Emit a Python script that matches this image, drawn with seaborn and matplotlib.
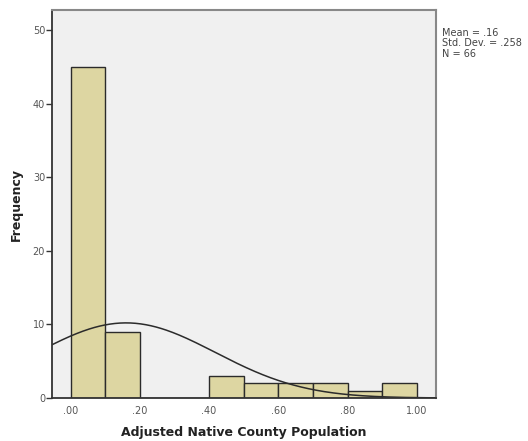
import numpy as np
import pandas as pd
import matplotlib
matplotlib.use("Agg")
import matplotlib.pyplot as plt
import seaborn as sns

# histogram bins (width .10) and counts
bin_left = [0.0, 0.1, 0.2, 0.3, 0.4, 0.5, 0.6, 0.7, 0.8, 0.9]
counts = [45, 9, 0, 0, 3, 2, 2, 2, 1, 2]
x_ticks = [0.0, 0.2, 0.4, 0.6, 0.8, 1.0]
x_tick_labels = [".00", ".20", ".40", ".60", ".80", "1.00"]
y_ticks = [0, 10, 20, 30, 40, 50]

mean_val = 0.16
sd_val = 0.258
n_val = 66

sns.set_style("white")
plt.rcParams["font.family"] = ["DejaVu Sans"]

df = pd.DataFrame({"x": np.array(bin_left) + 0.05, "n": counts})

fig = plt.figure(figsize=(5.28, 4.41), dpi=100)
ax = fig.add_axes([0.0985, 0.0975, 0.7275, 0.8795])
ax.set_facecolor("#f0f0f0")

sns.histplot(data=df, x="x", weights="n", binwidth=0.1, binrange=(0, 1), ax=ax,
             color="#ddd6a2", edgecolor="#2b2b2b", linewidth=1.0, alpha=1)

# fitted normal curve
xs = np.linspace(-0.054, 1.056, 300)
bw = 0.1
ys = n_val * bw / (sd_val * np.sqrt(2 * np.pi)) * np.exp(-0.5 * ((xs - mean_val) / sd_val) ** 2)
sns.lineplot(x=xs, y=ys, ax=ax, color="#2b2b2b", linewidth=1.1)

ax.set_xlim(-0.054, 1.056)
ax.set_ylim(0, 52.7)
ax.set_xticks(x_ticks)
ax.set_xticklabels(x_tick_labels)
ax.set_yticks(y_ticks)
ax.tick_params(axis="x", length=0, labelsize=7, labelcolor="#555555", pad=6)
ax.tick_params(axis="y", length=4, width=1, color="#333333", labelsize=7,
               labelcolor="#555555", left=True, pad=1)

ax.set_xlabel("Adjusted Native County Population", fontsize=9, fontweight="bold",
              color="#222222", labelpad=7)
ax.set_ylabel("Frequency", fontsize=9, fontweight="bold", color="#222222", labelpad=7)

for side in ["top", "right"]:
    ax.spines[side].set_color("#888888")
    ax.spines[side].set_linewidth(1.5)
for side in ["left", "bottom"]:
    ax.spines[side].set_color("#333333")
    ax.spines[side].set_linewidth(1.3)

fig.text(442 / 528, 1 - 28 / 441,
         "Mean = .16\nStd. Dev. = .258\nN = 66",
         fontsize=7, color="#444444", va="top", ha="left", linespacing=1.05)

fig.savefig("out.png", dpi=100, facecolor="white")
